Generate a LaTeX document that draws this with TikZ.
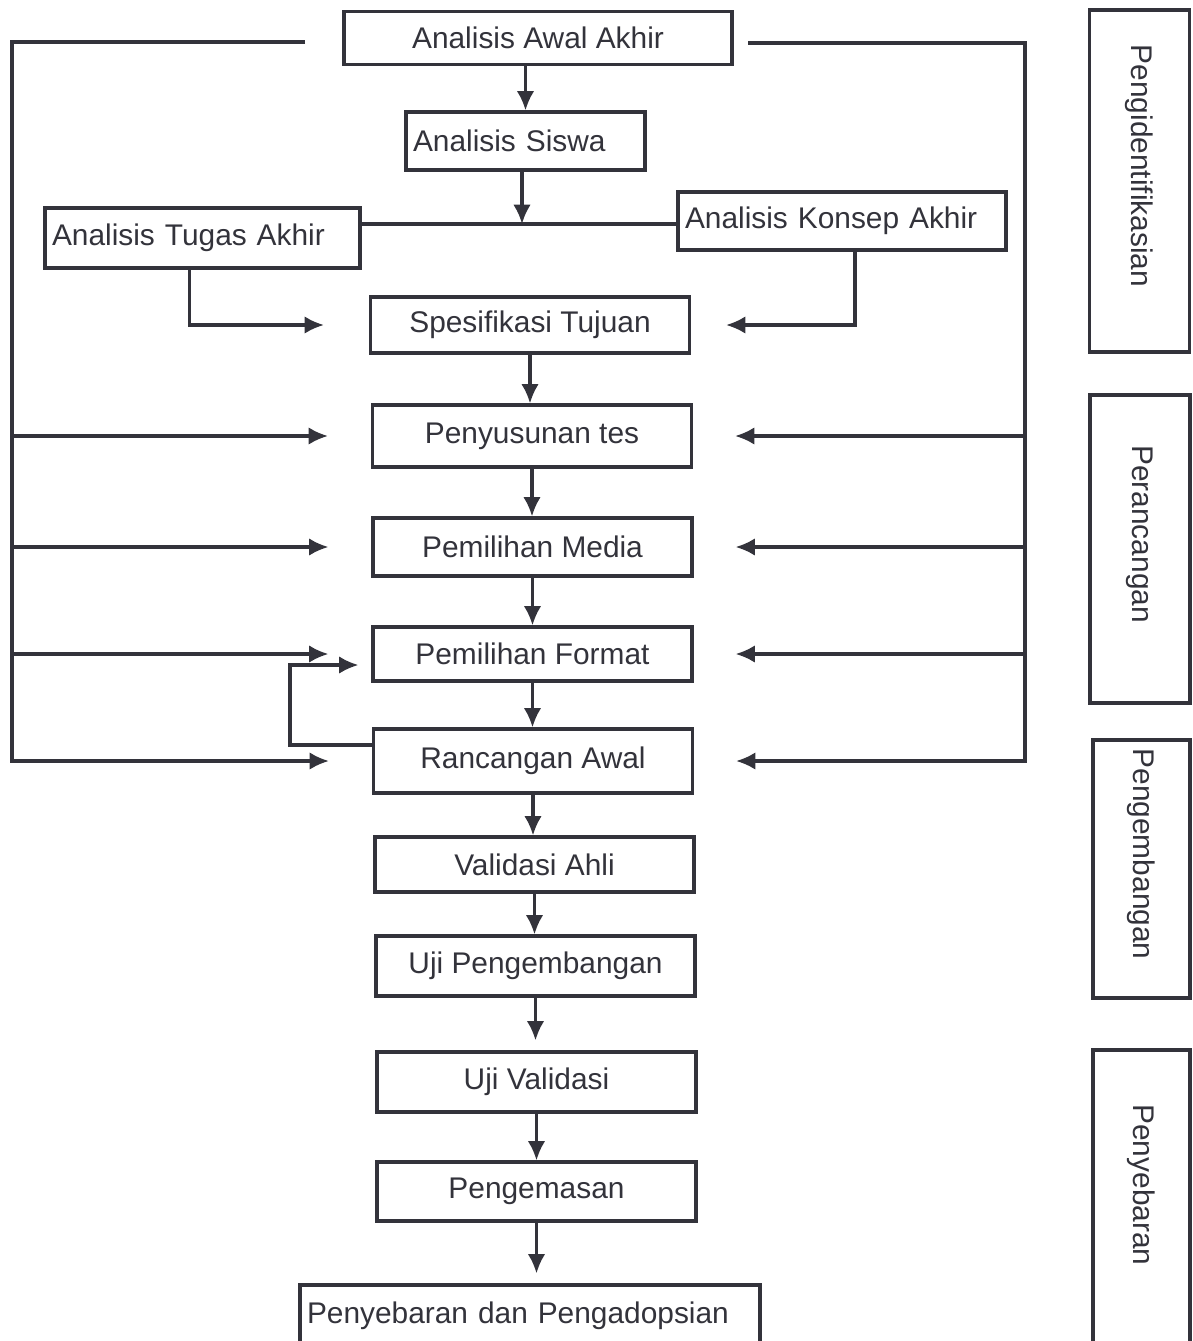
\documentclass[tikz,border=0pt]{standalone}
\usepackage{fontspec}
\setmainfont{Liberation Sans}
\usetikzlibrary{arrows.meta}
\usetikzlibrary{positioning}
\definecolor{mgrey}{rgb}{0.2, 0.2, 0.23}
\tikzset{box/.style = {draw=mgrey, line width=1.8pt, text=mgrey, inner sep=0pt,
                       font=\fontsize{17}{20}\selectfont},
         tahap/.style = {box, minimum width=6.38cm, minimum height=1.16cm},
         kiri/.style = {box, inner xsep=0.14cm, text width=#1, align=left,
                        minimum height=1.16cm},
         sisi/.style = {box, rotate=-90, minimum height=2cm,
                        execute at end node=\hspace{0.6cm}},
         garis/.style = {draw=mgrey, line width=1.8pt},
         panah/.style = {garis, -{Latex[length=11pt, width=10pt]}}}

\begin{document}
\begin{tikzpicture}
    \useasboundingbox (0, 0) rectangle (23.84, -26.82);

    \node [tahap, minimum width=7.76cm, minimum height=1.06cm] (awal) at (10.76, -0.76) {Analisis Awal Akhir};
    \node [kiri=4.5cm] (siswa) at (10.51, -2.82) {Analisis Siswa};
    \node [kiri=6.02cm, minimum height=1.2cm] (tugas) at (4.05, -4.76) {Analisis Tugas Akhir};
    \node [kiri=6.28cm] (konsep) at (16.84, -4.42) {Analisis Konsep Akhir};
    \node [tahap, minimum height=1.12cm] (tujuan) at (10.6, -6.5) {Spesifikasi Tujuan};
    \node [tahap, minimum height=1.24cm] (tes) at (10.64, -8.72) {Penyusunan tes};
    \node [tahap] (media) at (10.65, -10.94) {Pemilihan Media};
    \node [tahap, minimum height=1.08cm] (format) at (10.65, -13.08) {Pemilihan Format};
    \node [tahap, minimum height=1.28cm] (rancangan) at (10.66, -15.22) {Rancangan Awal};
    \node [tahap, minimum height=1.1cm] (ahli) at (10.69, -17.29) {Validasi Ahli};
    \node [tahap, minimum height=1.2cm] (ujikembang) at (10.71, -19.32) {Uji Pengembangan};
    \node [tahap, minimum height=1.2cm] (ujivalid) at (10.73, -21.64) {Uji Validasi};
    \node [tahap, minimum height=1.18cm] (kemas) at (10.73, -23.83) {Pengemasan};
    \node [kiri=8.92cm, minimum height=1.24cm] (sebar) at (10.6, -26.32) {Penyebaran dan Pengadopsian};

    % tahapan di sisi kanan
    \node [sisi, minimum width=6.84cm] (identifikasi) at (22.79, -3.62) {Pengidentifikasian};
    \node [sisi, minimum width=6.16cm] (perancangan) at (22.8, -10.98) {Perancangan};
    \node [sisi, minimum width=5.16cm, minimum height=1.94cm] (pengembangan) at (22.83, -17.38) {Pengembangan};
    \node [sisi, minimum width=6cm, minimum height=1.94cm] (penyebaran) at (22.83, -24) {Penyebaran};

    \draw [panah] (awal.south -| siswa) -- (siswa);
    \coordinate (temu) at (10.44, -4.48);
    \draw [garis] (tugas.east |- temu) -- (konsep.west |- temu);
    \draw [panah] (siswa.south -| temu) -- (temu);
    \draw [panah] ([xshift=-0.26cm]tugas.south) |- ([xshift=-0.9cm]tujuan.west);
    \draw [panah] ([xshift=0.26cm]konsep.south) |- ([xshift=0.7cm]tujuan.east);

    \foreach \a/\b in {tujuan/tes, tes/media, media/format, format/rancangan, rancangan/ahli, ahli/ujikembang, ujivalid/kemas}
        \draw [panah] (\a.south) -- (\a.south |- \b.north);
    \foreach \a/\b in {ujikembang/ujivalid, kemas/sebar}
        \draw [panah, shorten >=0.2cm] (\a.south) -- (\a.south |- \b.north);

    % umpan balik kiri dan kanan
    \coordinate (kiriujung) at (6.1, -0.84);
    \coordinate (kiriatas) at (0.24, -0.84);
    \draw [panah] (kiriujung) -- (kiriatas) |- ([xshift=-0.86cm]rancangan.west);
    \foreach \n in {tes, media, format}
        \draw [panah] (kiriatas |- \n) -- ([xshift=-0.86cm]\n.west);

    \coordinate (kananujung) at (14.96, -0.86);
    \coordinate (kananatas) at (20.5, -0.86);
    \draw [panah] (kananujung) -- (kananatas) |- ([xshift=0.84cm]rancangan.east);
    \foreach \n in {tes, media, format}
        \draw [panah] (kananatas |- \n) -- ([xshift=0.84cm]\n.east);

    \draw [panah] ([yshift=0.32cm]rancangan.west) -- ++(-1.64, 0) |- ([xshift=-0.26cm, yshift=-0.22cm]format.west);
\end{tikzpicture}
\end{document}
